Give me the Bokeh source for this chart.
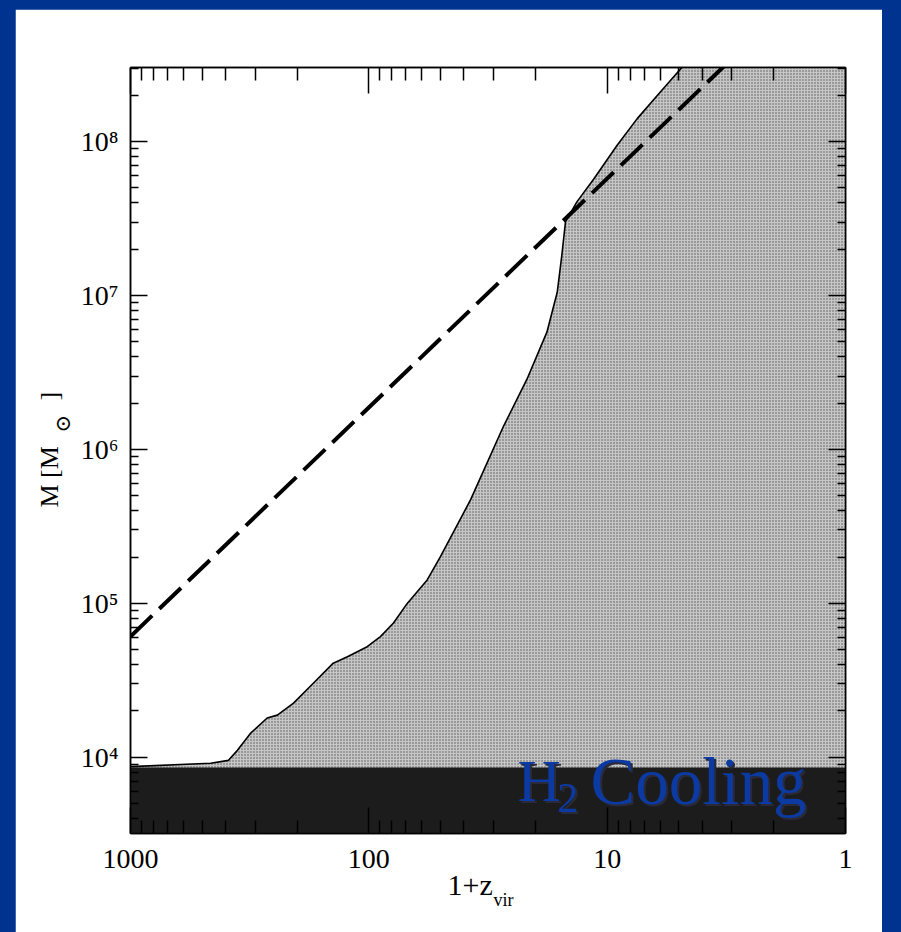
from bokeh.plotting import figure
from bokeh.models import LogAxis, Label, Title, FixedTicker, ColumnDataSource
from bokeh.layouts import column
from bokeh.embed import file_html
from bokeh.resources import INLINE

# ---------------- data ----------------
x_tick_values = [1000, 100, 10, 1]
x_tick_labels = ["1000", "100", "10", "1"]
y_tick_values = [1e4, 1e5, 1e6, 1e7, 1e8]
y_tick_labels = ["10⁴", "10⁵", "10⁶", "10⁷", "10⁸"]

# boundary of the H2-cooling (grey) region
curve_z = [1000, 461, 388, 356, 314, 267, 242, 207, 171, 141, 123, 101.6,
           89.4, 78.8, 69, 56.9, 50, 37.4, 27.2, 21.7, 17.9, 16.2, 15.5,
           14.96, 13.4, 11.4, 9.08, 7.48, 5.97, 4.77, 1]
curve_M = [8.7e3, 9.15e3, 9.56e3, 1.11e4, 1.43e4, 1.8e4, 1.88e4, 2.25e4,
           3.03e4, 4.09e4, 4.5e4, 5.23e4, 6.08e4, 7.46e4, 1.0e5, 1.42e5,
           2.02e5, 4.72e5, 1.42e6, 2.86e6, 5.78e6, 1.05e7, 1.82e7, 3.01e7,
           4.06e7, 5.7e7, 9.46e7, 1.41e8, 2.11e8, 3.13e8, 1e9]

# dashed line
dash_z = [1000, 3]
dash_M = [6.1e4, 3.45e8]

# dark band (top edge)
dark_z = [1000, 1]
dark_M = [8.6e3, 8.6e3]

floor_M = 1e3

# ---------------- figure ----------------
FONT = "Liberation Serif"
p = figure(width=867, height=923, x_axis_type="log", y_axis_type="log",
           x_range=(1000, 1), y_range=(3.2e3, 3.03e8),
           output_backend="svg", toolbar_location=None,
           min_border_left=115, min_border_right=37,
           min_border_top=58, min_border_bottom=99,
           background_fill_color="white", border_fill_color="white",
           outline_line_color="black", outline_line_width=1.5)
p.grid.visible = False

grey_src = ColumnDataSource(dict(x=curve_z, top=curve_M,
                                 bottom=[floor_M] * len(curve_z)))
p.varea(x="x", y1="bottom", y2="top", source=grey_src,
        fill_color="#c6c6c6", hatch_pattern="dot", hatch_color="#555555",
        hatch_scale=3, hatch_weight=1)

dark_src = ColumnDataSource(dict(x=dark_z, top=dark_M,
                                 bottom=[floor_M] * len(dark_z)))
p.varea(x="x", y1="bottom", y2="top", source=dark_src, fill_color="#1c1c1c")

p.line(curve_z, curve_M, line_color="black", line_width=1.6)
p.line(dash_z, dash_M, line_color="black", line_width=4, line_dash="30 10")

x_minor = [k * 10 ** e for e in range(0, 3) for k in range(2, 10)]
y_minor = [k * 10 ** e for e in range(3, 9) for k in range(2, 10)]
x_ticker = FixedTicker(ticks=x_tick_values, minor_ticks=x_minor)
y_ticker = FixedTicker(ticks=y_tick_values, minor_ticks=y_minor)


def style(ax, major_in, minor_in, show_labels):
    ax.axis_line_color = "black"
    ax.axis_line_width = 1.5
    ax.major_tick_in = major_in
    ax.major_tick_out = 0
    ax.minor_tick_in = minor_in
    ax.minor_tick_out = 0
    ax.major_tick_line_width = 1.5
    ax.minor_tick_line_width = 1.5
    ax.major_tick_line_color = "black"
    ax.minor_tick_line_color = "black"
    if show_labels:
        ax.major_label_text_font = FONT
        ax.major_label_text_font_size = "28px"
        ax.major_label_text_color = "black"
    else:
        ax.major_label_text_font_size = "2px"
        ax.major_label_text_color = None
        ax.major_label_standoff = 0


xb = p.xaxis[0]
xb.ticker = x_ticker
xb.major_label_overrides = {v: t for v, t in zip(x_tick_values, x_tick_labels)}
xb.major_label_standoff = 16
style(xb, 26, 13, True)

yl = p.yaxis[0]
yl.ticker = y_ticker
yl.major_label_overrides = {v: t for v, t in zip(y_tick_values, y_tick_labels)}
yl.major_label_standoff = 12
style(yl, 17, 8, True)

xt = LogAxis(ticker=x_ticker)
style(xt, 26, 13, False)
p.add_layout(xt, "above")

yr = LogAxis(ticker=y_ticker)
style(yr, 17, 8, False)
p.add_layout(yr, "right")


# ---- axis titles as side-panel titles ----
def title(text, size, offset, valign, standoff, font=FONT):
    return Title(text=text, align="left", offset=offset,
                 vertical_align=valign, standoff=standoff,
                 text_font=font, text_font_size=size,
                 text_font_style="normal", text_color="black")


p.add_layout(title("1+z", "30px", 317, "bottom", -9), "below")
p.add_layout(title("vir", "18px", 363, "top", -13), "below")

NB = "\u00a0"
p.add_layout(title("⊙", "21px", 401, "top", 2, font="DejaVu Serif"), "left")
p.add_layout(title("M" + NB + "[M" + NB * 7 + "]", "26px", 326, "bottom", -28),
             "left")


# ---- "H2 Cooling" (canvas units: x = page_x - 15, y = page_y - 9) ----
def lab(text, px, py, size, color):
    p.add_layout(Label(x=px - 15, y=py - 9, x_units="canvas",
                       y_units="canvas", text=text, text_font=FONT,
                       text_font_size=size, text_color=color,
                       text_align="left", text_baseline="alphabetic"))


for dx, dy, col in [(2, 2, "#2a2a3a"), (0, 0, "#0b3aa2")]:
    lab("H", 517 + dx, 780 + dy, "60px", col)
    lab("2", 557 + dx, 797 + dy, "42px", col)
    lab("Cooling", 590 + dx, 780 + dy, "67px", col)

layout = column(p, styles={"background-color": "#00338f",
                           "padding": "9px 19px 0px 15px"})

open("out.html", "w").write(file_html(layout, INLINE))
